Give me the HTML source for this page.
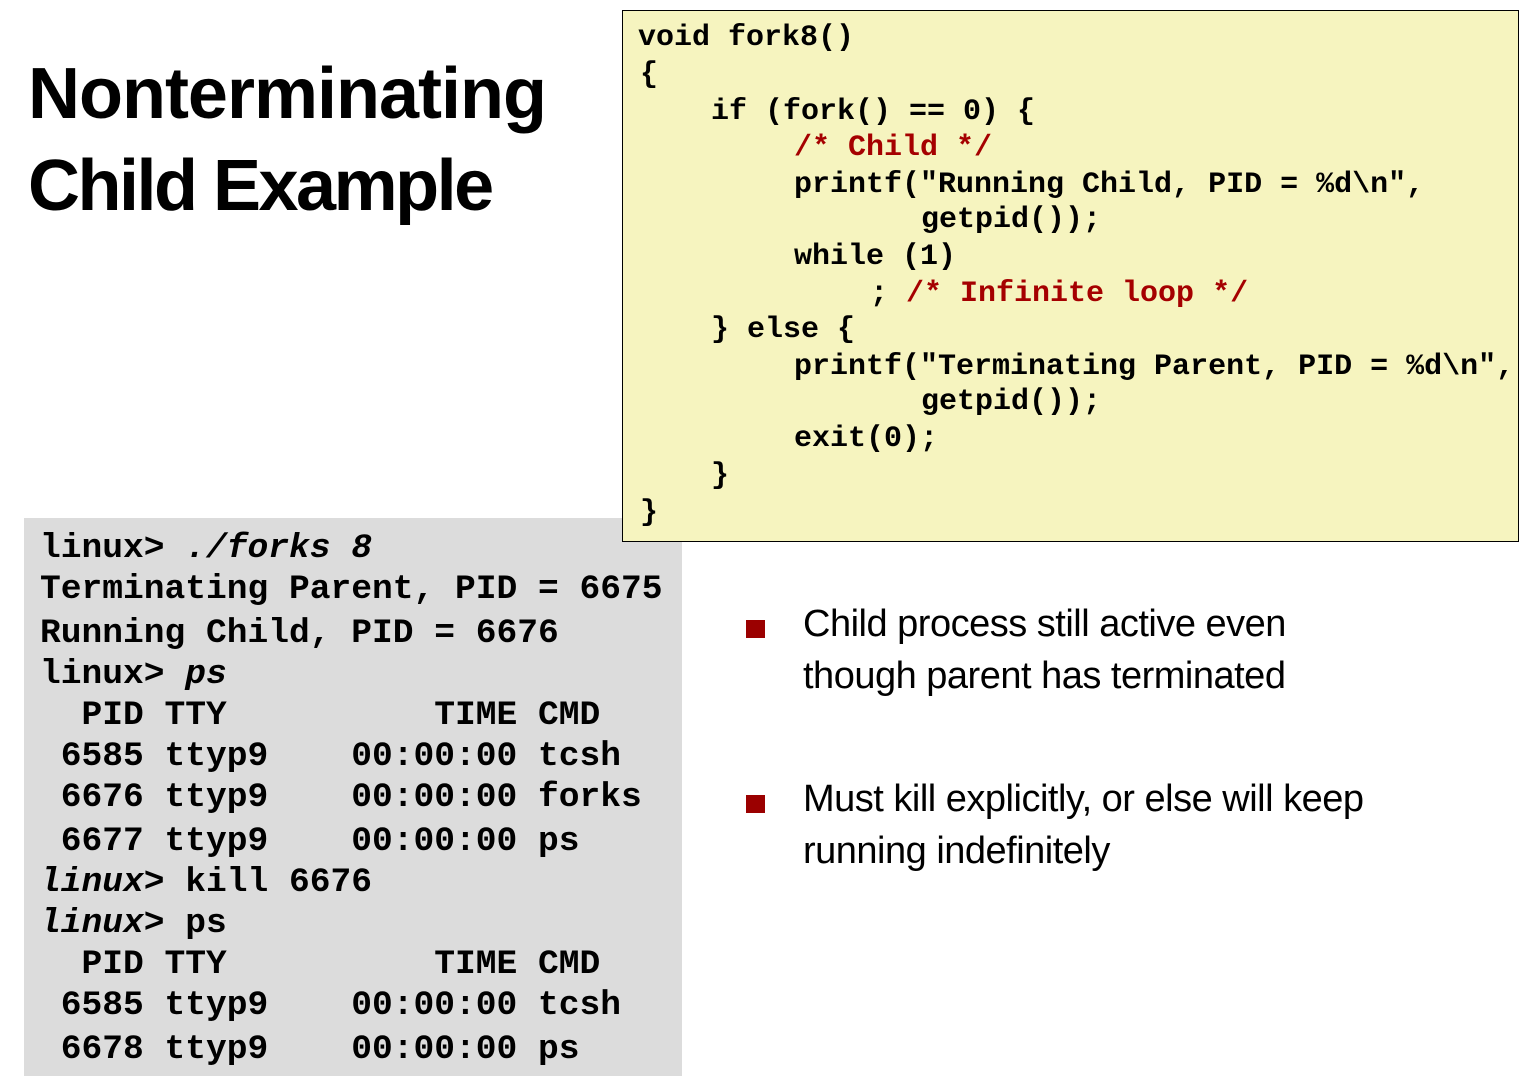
<!DOCTYPE html>
<html><head><meta charset="utf-8"><style>
body{margin:0;width:1519px;height:1082px;background:#fff;position:relative;overflow:hidden}
.t{position:absolute;left:28px;font:bold 72px/1 "Liberation Sans",sans-serif;color:#000;letter-spacing:-1px}
.code{position:absolute;left:622px;top:10px;width:897px;height:532px;background:#f6f4bf;border:1px solid #000;box-sizing:border-box}
.c{position:absolute;font:bold 30px/36px "Liberation Mono",monospace;white-space:pre;color:#000}
.r{color:#a50000}
.term{position:absolute;left:24px;top:518px;width:658px;height:558px;background:#dcdcdc}
.m{position:absolute;left:40px;font:bold 34.6px/42px "Liberation Mono",monospace;white-space:pre;color:#000}
i{font-style:italic}
.b{position:absolute;left:803px;font:38px/52px "Liberation Sans",sans-serif;color:#000;letter-spacing:-0.5px}
.sq{position:absolute;left:746px;width:19px;height:18px;background:#9b0000}
</style></head><body>
<div class="t" style="top:58px">Nonterminating</div>
<div class="t" style="top:150px;letter-spacing:-2.5px">Child Example</div>

<div class="term"></div>
<div class="m" style="top:528px">linux&gt; <i>./forks 8</i></div>
<div class="m" style="top:569px">Terminating Parent, PID = 6675</div>
<div class="m" style="top:613px">Running Child, PID = 6676</div>
<div class="m" style="top:654px">linux&gt; <i>ps</i></div>
<div class="m" style="top:695px">  PID TTY          TIME CMD</div>
<div class="m" style="top:736px"> 6585 ttyp9    00:00:00 tcsh</div>
<div class="m" style="top:777px"> 6676 ttyp9    00:00:00 forks</div>
<div class="m" style="top:821px"> 6677 ttyp9    00:00:00 ps</div>
<div class="m" style="top:862px"><i>linux</i>&gt; kill 6676</div>
<div class="m" style="top:903px"><i>linux</i>&gt; ps</div>
<div class="m" style="top:944px">  PID TTY          TIME CMD</div>
<div class="m" style="top:985px"> 6585 ttyp9    00:00:00 tcsh</div>
<div class="m" style="top:1029px"> 6678 ttyp9    00:00:00 ps</div>

<div class="code"></div>
<div class="c" style="left:638px;top:20px">void fork8()</div>
<div class="c" style="left:640px;top:57px">{</div>
<div class="c" style="left:711px;top:94px">if (fork() == 0) {</div>
<div class="c r" style="left:794px;top:130px">/* Child */</div>
<div class="c" style="left:794px;top:167px">printf("Running Child, PID = %d\n",</div>
<div class="c" style="left:921px;top:202px">getpid());</div>
<div class="c" style="left:794px;top:239px">while (1)</div>
<div class="c" style="left:870px;top:276px">; <span class="r">/* Infinite loop */</span></div>
<div class="c" style="left:711px;top:312px">} else {</div>
<div class="c" style="left:794px;top:349px">printf("Terminating Parent, PID = %d\n",</div>
<div class="c" style="left:921px;top:384px">getpid());</div>
<div class="c" style="left:794px;top:421px">exit(0);</div>
<div class="c" style="left:711px;top:458px">}</div>
<div class="c" style="left:640px;top:495px">}</div>

<div class="sq" style="top:620px"></div>
<div class="b" style="top:598px">Child process still active even<br>though parent has terminated</div>
<div class="sq" style="top:795px"></div>
<div class="b" style="top:773px">Must kill explicitly, or else will keep<br>running indefinitely</div>
</body></html>
